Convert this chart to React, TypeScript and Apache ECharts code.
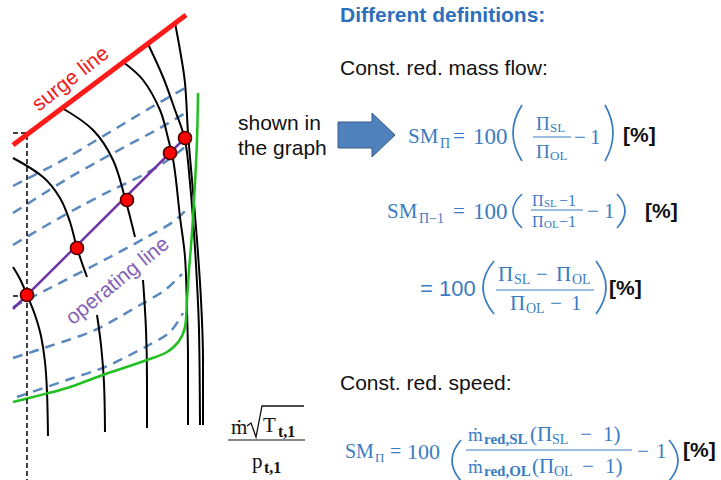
import React, { useEffect, useRef } from 'react';
import * as echarts from 'echarts';

// Schematic compressor map (x: reduced mass flow, y: pressure ratio, both in diagram units, y downward)
const surgeLine = [[13, 145], [186, 15]];

const speedLineSegments = [
  [[13, 267], [20, 279], [27, 295], [35, 315], [41, 336], [45, 362], [47, 392], [48, 436]],
  [[13, 158], [43, 177], [60, 198], [70, 222], [77, 248], [87, 277]],
  [[97, 315], [101, 345], [104, 383], [105, 432]],
  [[62, 108], [93, 130], [113, 160], [125, 198], [135, 237]],
  [[143, 280], [146, 330], [147, 380], [147, 428]],
  [[123, 62], [143, 80], [160, 110], [168, 138], [174, 165], [180, 217], [185, 257], [187, 310], [188, 360], [188, 425]],
  [[148, 44], [163, 77], [175, 110], [185, 140], [190, 183], [194, 233], [197, 283], [199, 330], [200, 425]],
  [[175, 23], [180, 50], [185, 83], [188, 133], [192, 180], [197, 240], [201, 300], [203, 360], [203, 425]],
];

const effLines = [
  [[17, 397], [70, 379], [105, 367], [147, 346], [170, 332], [183, 313]],
  [[13, 358], [50, 346], [95, 330], [140, 305], [165, 290], [182, 274]],
  [[13, 307], [50, 288], [110, 257], [147, 237], [173, 222], [186, 210]],
  [[13, 245], [47, 225], [83, 205], [110, 191], [143, 175], [165, 162], [185, 147]],
  [[13, 213], [43, 194], [67, 179], [97, 162], [130, 144], [160, 128], [187, 112]],
  [[13, 186], [50, 167], [70, 156], [110, 132], [150, 108], [187, 87]],
];

const chokeLine = [[13, 402], [33, 397], [67, 388], [100, 376], [147, 360], [167, 352], [179, 341], [185, 327], [187, 300], [189, 270], [192, 233], [195, 183], [197, 140], [198, 93]];

const operatingLine = [[13, 309], [186, 137]];
const operatingPoints = [[27, 295], [77, 248], [127, 200], [170, 153], [185, 138]];
const referenceLine = [[13, 133], [27, 133], [27, 480]];
const referenceTick = [[13, 296], [27, 296]];

const BLUE = '#3a7cc2';
const HEAD = '#2e6fbd';
const SERIF = '"Liberation Serif", "Times New Roman", serif';
const SANS = '"Liberation Sans", Arial, sans-serif';

function txt(text: string, x: number, y: number, size: number, opt: any = {}) {
  return {
    type: 'text',
    x,
    y,
    rotation: opt.rot || 0,
    silent: true,
    z: 10,
    style: {
      text,
      font: `${opt.weight || 'normal'} ${size}px ${opt.family || SERIF}`,
      fill: opt.color || BLUE,
      textAlign: opt.align || 'left',
      textVerticalAlign: 'middle',
    },
  };
}

function paren(x1: number, top: number, bottom: number, extreme: number, color = BLUE) {
  return {
    type: 'bezierCurve',
    silent: true,
    shape: { x1, y1: top, x2: x1, y2: bottom, cpx1: 2 * extreme - x1, cpy1: (top + bottom) / 2 },
    style: { stroke: color, lineWidth: 1.7, fill: null },
  };
}

function bar(x1: number, x2: number, y: number, color = BLUE) {
  return { type: 'line', silent: true, shape: { x1, y1: y, x2, y2: y }, style: { stroke: color, lineWidth: 1.2 } };
}

const pct = (x: number, y: number) => txt('[%]', x, y, 21, { family: SANS, weight: 'bold', color: '#111' });
const BLK = { color: '#111' };
const BLKB = { color: '#111', weight: 'bold' };

export default function App() {
  const ref = useRef<HTMLDivElement>(null);
  useEffect(() => {
    document.body.style.margin = '0';
    const chart = echarts.init(ref.current!, null, { renderer: 'svg' });
    const series: any[] = [];
    effLines.forEach((d) =>
      series.push({ type: 'line', data: d, smooth: 0.3, symbol: 'none', silent: true, z: 2,
        lineStyle: { color: '#5a88bd', width: 2.5, type: [10, 7] } })
    );
    speedLineSegments.forEach((d) =>
      series.push({ type: 'line', data: d, smooth: 0.35, symbol: 'none', silent: true, z: 3,
        lineStyle: { color: '#000', width: 2 } })
    );
    series.push({ type: 'line', data: chokeLine, smooth: 0.35, symbol: 'none', silent: true, z: 4,
      lineStyle: { color: '#1fc01f', width: 2.5 } });
    series.push({ type: 'line', data: referenceLine, symbol: 'none', silent: true, z: 4,
      lineStyle: { color: '#000', width: 1.5, type: [5, 3] } });
    series.push({ type: 'line', data: referenceTick, symbol: 'none', silent: true, z: 4,
      lineStyle: { color: '#000', width: 1.5, type: [5, 3] } });
    series.push({ type: 'line', data: surgeLine, symbol: 'none', silent: true, z: 5,
      lineStyle: { color: '#ff1a1a', width: 5 } });
    series.push({ type: 'line', data: operatingLine, symbol: 'none', silent: true, z: 5,
      lineStyle: { color: '#7235a8', width: 2.5 } });
    series.push({ type: 'scatter', data: operatingPoints, symbolSize: 13, silent: true, z: 6,
      itemStyle: { color: '#ff0000', borderColor: '#4a0000', borderWidth: 1.5, opacity: 1 } });

    const elements: any[] = [
      txt('surge line', 70, 78, 21, { family: SANS, color: '#ee1c1c', align: 'center', rot: (38 * Math.PI) / 180 }),
      txt('operating line', 117, 280, 21, { family: SANS, color: '#8462b8', align: 'center', rot: (39 * Math.PI) / 180 }),

      txt('Different definitions:', 340, 14, 21, { family: SANS, weight: 'bold', color: HEAD }),
      txt('Const. red. mass flow:', 340, 67, 21, { family: SANS, color: '#111' }),
      txt('shown in', 238, 122, 21, { family: SANS, color: '#111' }),
      txt('the graph', 238, 147, 21, { family: SANS, color: '#111' }),
      {
        type: 'polygon', silent: true,
        shape: { points: [[338, 122], [372, 122], [372, 113], [395, 135], [372, 157], [372, 148], [338, 148]] },
        style: { fill: '#4f81bd', stroke: '#385d8a', lineWidth: 1 },
      },

      // Formula 1
      txt('SM', 408, 136, 21), txt('Π', 440, 143, 14), txt('=', 453, 136, 21), txt('100', 473, 136, 23),
      paren(522, 105, 161, 513),
      txt('Π', 536, 123, 19), txt('SL', 550, 127, 13),
      bar(533, 571, 137),
      txt('Π', 536, 151, 19), txt('OL', 550, 155, 13),
      txt('−', 574, 137, 21), txt('1', 590, 137, 21),
      paren(605, 105, 161, 613),
      pct(623, 134),

      // Formula 2
      txt('SM', 387, 211, 21), txt('Π−1', 419, 218, 14), txt('=', 453, 211, 21), txt('100', 473, 211, 23),
      paren(522, 194, 228, 513),
      txt('Π', 532, 200, 16), txt('SL', 544, 203, 11), txt('−1', 559, 200, 16),
      bar(531, 583, 210),
      txt('Π', 532, 221, 16), txt('OL', 544, 224, 11), txt('−1', 559, 221, 16),
      txt('−', 587, 211, 21), txt('1', 604, 211, 21),
      paren(617, 194, 228, 625),
      pct(645, 210),

      // Formula 3
      txt('= 100', 420, 288, 22, { family: SANS }),
      paren(494, 261, 314, 483),
      txt('Π', 498, 274, 21), txt('SL', 514, 279, 14), txt('−', 536, 274, 21), txt('Π', 556, 274, 21), txt('OL', 572, 279, 14),
      bar(496, 594, 290),
      txt('Π', 510, 303, 21), txt('OL', 526, 308, 14), txt('−', 550, 303, 21), txt('1', 571, 303, 21),
      paren(596, 261, 314, 606),
      pct(609, 287),

      // Const. red. speed
      txt('Const. red. speed:', 340, 382, 21, { family: SANS, color: '#111' }),

      // left fraction m*sqrt(T)/p
      txt('ṁ', 231, 427, 21, BLK),
      {
        type: 'polyline', silent: true,
        shape: { points: [[247, 426], [251, 423], [256, 437], [262, 406], [304, 406]] },
        style: { stroke: '#111', lineWidth: 1.3, fill: null },
      },
      txt('T', 263, 425, 21, BLK), txt('t,1', 278, 431, 16, BLKB),
      bar(228, 305, 440, '#111'),
      txt('p', 252, 461, 21, BLK), txt('t,1', 264, 467, 16, BLKB),

      // Formula 4
      txt('SM', 345, 451, 20), txt('Π', 375, 457, 13), txt('=', 390, 451, 20), txt('100', 407, 451, 22),
      paren(461, 440, 481, 452),
      txt('ṁ', 468, 434, 19), txt('red,SL', 484, 439, 15, { weight: 'bold' }),
      txt('(Π', 530, 434, 21), txt('SL', 552, 439, 14), txt('−', 580, 434, 21), txt('1)', 603, 434, 21),
      bar(466, 632, 450),
      txt('ṁ', 468, 466, 19), txt('red,OL', 484, 471, 15, { weight: 'bold' }),
      txt('(Π', 532, 466, 21), txt('OL', 554, 471, 14), txt('−', 582, 466, 21), txt('1)', 605, 466, 21),
      txt('−', 637, 451, 21), txt('1', 656, 451, 21),
      paren(669, 440, 481, 678),
      pct(683, 449),
    ];

    chart.setOption({
      animation: false,
      backgroundColor: '#ffffff',
      grid: { left: 0, top: 0, width: 215, height: 480 },
      xAxis: { type: 'value', min: 0, max: 215, show: false },
      yAxis: { type: 'value', min: 0, max: 480, inverse: true, show: false },
      series,
      graphic: { elements },
    });
    return () => chart.dispose();
  }, []);
  return <div ref={ref} style={{ width: 721, height: 480 }} />;
}
